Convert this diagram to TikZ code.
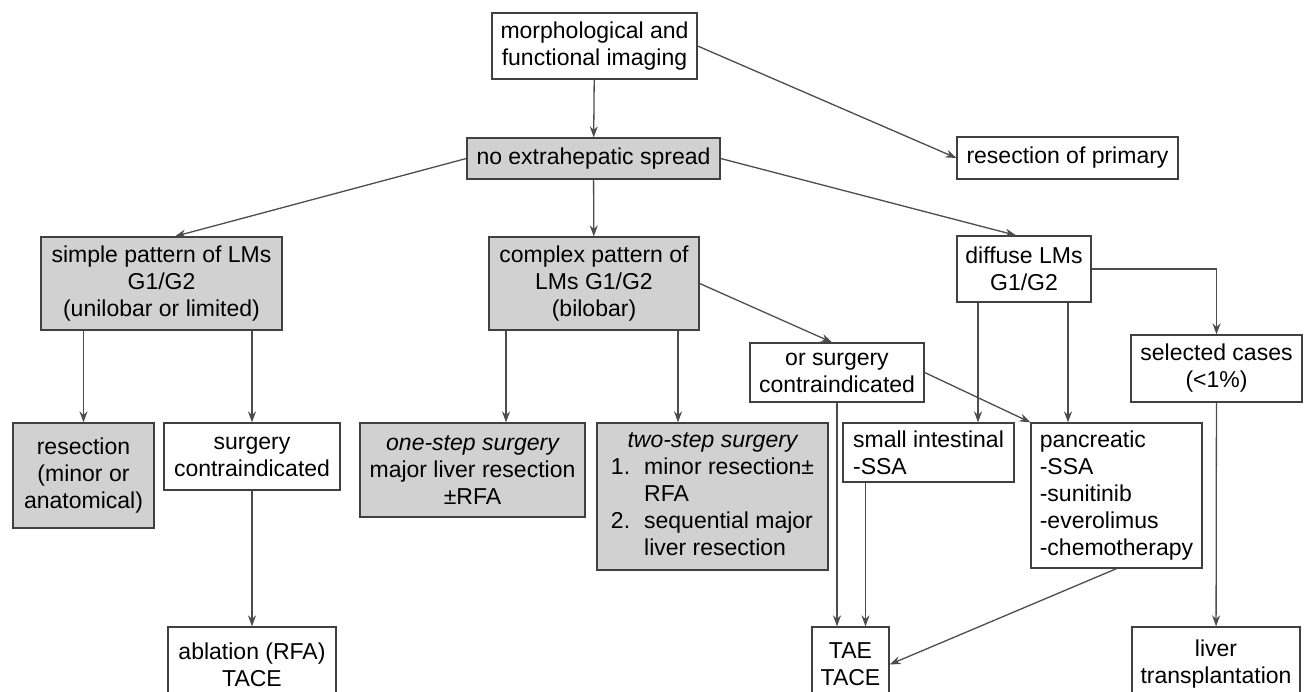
\documentclass[tikz,border=0pt]{standalone}
\usepackage{fontspec}
\setmainfont{Liberation Sans}
\usetikzlibrary{arrows.meta}

\begin{document}
\begin{tikzpicture}[x=1pt,y=-1pt,
  font=\fontsize{23}{27}\selectfont,
  box/.style={draw=black!75,line width=1.3pt,align=center,inner sep=3pt},
  greybox/.style={box,fill=black!18},
  arr/.style={draw=black!70,line width=1.3pt,-{Stealth[length=11pt,width=8pt]}}]
  \useasboundingbox (0,0) rectangle (1314,692);
  % first rows
  \node[box,minimum width=205pt,minimum height=66pt] (morph) at (594.5,46) {morphological and\\functional imaging};
  \node[greybox,minimum width=253pt,minimum height=41pt] (noext) at (593.5,158.5) {no extrahepatic spread};
  \node[box,minimum width=221pt,minimum height=42pt] (resprim) at (1067.5,158) {resection of primary};
  \node[greybox,minimum width=241pt,minimum height=93pt] (simple) at (161.5,283.5) {simple pattern of LMs\\G1/G2\\(unilobar or limited)};
  \node[greybox,minimum width=210pt,minimum height=93pt] (complex) at (594,283.5) {complex pattern of\\LMs G1/G2\\(bilobar)};
  \node[box,minimum width=134pt,minimum height=66pt] (diffuse) at (1024,269) {diffuse LMs\\G1/G2};
  \node[box,minimum width=174pt,minimum height=59pt] (orsurg) at (837,372.5) {or surgery\\contraindicated};
  \node[box,minimum width=171pt,minimum height=67pt] (selected) at (1216.5,368.5) {selected cases\\(<1\%)};
  % treatments
  \node[greybox,minimum width=141pt,minimum height=105pt] (resect) at (83.5,475.5) {resection\\(minor or\\anatomical)};
  \node[box,minimum width=176pt,minimum height=67pt] (surgci) at (252,456.5) {surgery\\contraindicated};
  \node[greybox,minimum width=225pt,minimum height=94pt] (onestep) at (472.5,470) {\itshape one-step surgery\\major liver resection\\±RFA};
  \node[greybox,minimum width=231pt,minimum height=147pt] (twostep) at (712.5,496.5) {%
    \begin{tabular}{@{}l@{\hspace{14pt}}l@{}}
      \multicolumn{2}{c}{\itshape two-step surgery}\\
      1. & minor resection±\\
         & RFA\\
      2. & sequential major\\
         & liver resection
    \end{tabular}};
  \node[box,align=left,minimum width=171pt,minimum height=59pt] (smallint) at (928.5,452.5) {small intestinal\\-SSA};
  \node[box,align=left,minimum width=171pt,minimum height=145pt] (pancr) at (1116.5,495.5) {pancreatic\\-SSA\\-sunitinib\\-everolimus\\-chemotherapy};
  % bottom row, cut by the page edge
  \node[box,minimum width=168pt,minimum height=75pt] (ablation) at (252,664.5) {ablation (RFA)\\TACE};
  \node[box,minimum width=77pt,minimum height=75pt] (tae) at (850.5,664.5) {TAE\\TACE};
  \node[box,minimum width=168pt,minimum height=75pt] (liver) at (1216,664.5) {liver\\transplantation};

  \draw[arr] (morph) -- (noext);
  \draw[arr] (morph.east) -- (resprim.west);
  \draw[arr] (noext.west) -- ([xshift=13.5pt]simple.north);
  \draw[arr] (noext) -- (complex);
  \draw[arr] (noext.east) -- ([xshift=-8pt]diffuse.north);
  \draw[arr] (simple.south -| resect.north) -- (resect.north);
  \draw[arr] (simple.south -| surgci.north) -- (surgci.north);
  \draw[arr] (surgci) -- (ablation);
  \draw[arr] ([xshift=-88pt]complex.south) -- ([xshift=-88pt]complex.south |- onestep.north);
  \draw[arr] ([xshift=84pt]complex.south) -- ([xshift=84pt]complex.south |- twostep.north);
  \draw[arr] (complex.east) -- ([xshift=-5pt]orsurg.north);
  \draw[arr] (orsurg.south) -- (orsurg.south |- tae.north);
  \draw[arr] (orsurg.east) -- (pancr.north west);
  \draw[arr] ([xshift=-46pt]diffuse.south) -- ([xshift=-46pt]diffuse.south |- smallint.north);
  \draw[arr] ([xshift=44pt]diffuse.south) -- ([xshift=44pt]diffuse.south |- pancr.north);
  \draw[arr] (diffuse.east) -| (selected.north);
  \draw[arr] (selected) -- (liver);
  \draw[arr] ([xshift=15pt]tae.north |- smallint.south) -- ([xshift=15pt]tae.north);
  \draw[arr] (pancr.south) -- (tae.east);
\end{tikzpicture}
\end{document}
